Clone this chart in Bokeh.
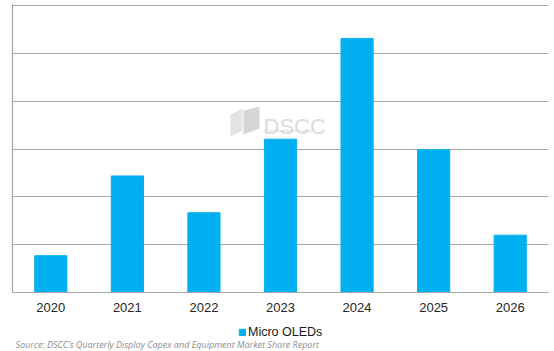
from bokeh.plotting import figure
from bokeh.layouts import column
from bokeh.models import (Range1d, FixedTicker, Legend, LegendItem, Label,
                          ColumnDataSource, PolyAnnotation)
from bokeh.embed import file_html
from bokeh.resources import INLINE

years = ["2020", "2021", "2022", "2023", "2024", "2025", "2026"]
values = [0.77, 2.44, 1.67, 3.21, 5.32, 2.99, 1.20]
series_name = "Micro OLEDs"
grid_ticks = [0, 1, 2, 3, 4, 5, 6]
source_text = "Source: DSCC\u2019s Quarterly Display Capex and Equipment Market Share Report"

BAR = "#00b0f0"
GRID = "#a6a6a6"

src = ColumnDataSource(dict(year=years, value=values))

p = figure(x_range=years, y_range=Range1d(0, 6.03), width=554, height=317,
           output_backend="svg", toolbar_location=None,
           min_border_left=12, min_border_right=6, min_border_top=4, min_border_bottom=25)
p.outline_line_color = None
p.background_fill_color = "white"
p.border_fill_color = "white"

r = p.vbar(x="year", top="value", width=0.42, source=src, fill_color=BAR, line_color=BAR)

# grid
p.xgrid.visible = False
p.ygrid.ticker = FixedTicker(ticks=grid_ticks)
p.ygrid.grid_line_color = GRID
p.ygrid.grid_line_width = 1.2

# y axis: line only
p.yaxis.ticker = FixedTicker(ticks=grid_ticks)
p.yaxis.major_label_overrides = {t: "" for t in grid_ticks}
p.yaxis.major_label_standoff = 0
p.yaxis.major_tick_out = 0
p.yaxis.major_tick_in = 0
p.yaxis.minor_tick_out = 0
p.yaxis.minor_tick_in = 0
p.yaxis.axis_line_color = GRID
p.yaxis.axis_line_width = 1.2

# x axis
p.xaxis.axis_line_color = GRID
p.xaxis.axis_line_width = 1.2
p.xaxis.major_tick_out = 0
p.xaxis.major_tick_in = 0
p.xaxis.major_label_text_font = "Liberation Sans"
p.xaxis.major_label_text_font_size = "13px"
p.xaxis.major_label_text_color = "#262626"
p.xaxis.major_label_standoff = 10

# watermark (screen units relative to the frame)
p.add_layout(Label(x=251, y=166, x_units="screen", y_units="screen",
                   text="DSCC", text_font="Liberation Sans", text_font_size="22px",
                   text_color="#dcdcdc", text_baseline="alphabetic"))
p.add_layout(Label(x=252, y=160, x_units="screen", y_units="screen",
                   text="A Counterpoint Research Company", text_font="Liberation Sans",
                   text_font_size="3px", text_color="#d0d0d0"))
p.add_layout(PolyAnnotation(xs=[218, 230, 230, 218], ys=[178, 184, 162, 156],
                            xs_units="screen", ys_units="screen",
                            fill_color="#e3e3e3", fill_alpha=1, line_color=None))
p.add_layout(PolyAnnotation(xs=[231, 247, 247, 231], ys=[182, 186, 164, 158],
                            xs_units="screen", ys_units="screen",
                            fill_color="#d6d6d6", fill_alpha=1, line_color=None))

# footer figure: legend + source note
f = figure(width=554, height=34, x_range=Range1d(0, 554), y_range=Range1d(0, 34),
           output_backend="svg", toolbar_location=None,
           x_axis_location=None, y_axis_location=None,
           min_border_left=0, min_border_right=0, min_border_top=0, min_border_bottom=0)
f.outline_line_color = None
f.xgrid.visible = False
f.ygrid.visible = False
f.border_fill_color = "white"

# legend key renderer (its single bar lies outside the footer's view)
key_src = ColumnDataSource(dict(x=[-100], top=[-100]))
key = f.vbar(x="x", top="top", width=1, source=key_src, fill_color=BAR, line_color=BAR)
legend = Legend(items=[LegendItem(label=series_name, renderers=[key])],
                orientation="horizontal", location=(226, 12),
                glyph_width=8, glyph_height=8, label_standoff=2,
                label_text_font="Liberation Sans", label_text_font_size="12.5px",
                label_text_color="#1a1a1a", border_line_color=None,
                background_fill_alpha=0, padding=0, margin=0, label_height=12)
f.add_layout(legend)

f.add_layout(Label(x=3, y=7, x_units="screen", y_units="screen",
                   text=source_text, text_font="Open Sans", text_font_style="italic",
                   text_font_size="9px", text_color="#8c8c8c", text_baseline="alphabetic"))

layout = column(p, f, spacing=0)
open("out.html", "w").write(file_html(layout, INLINE))
